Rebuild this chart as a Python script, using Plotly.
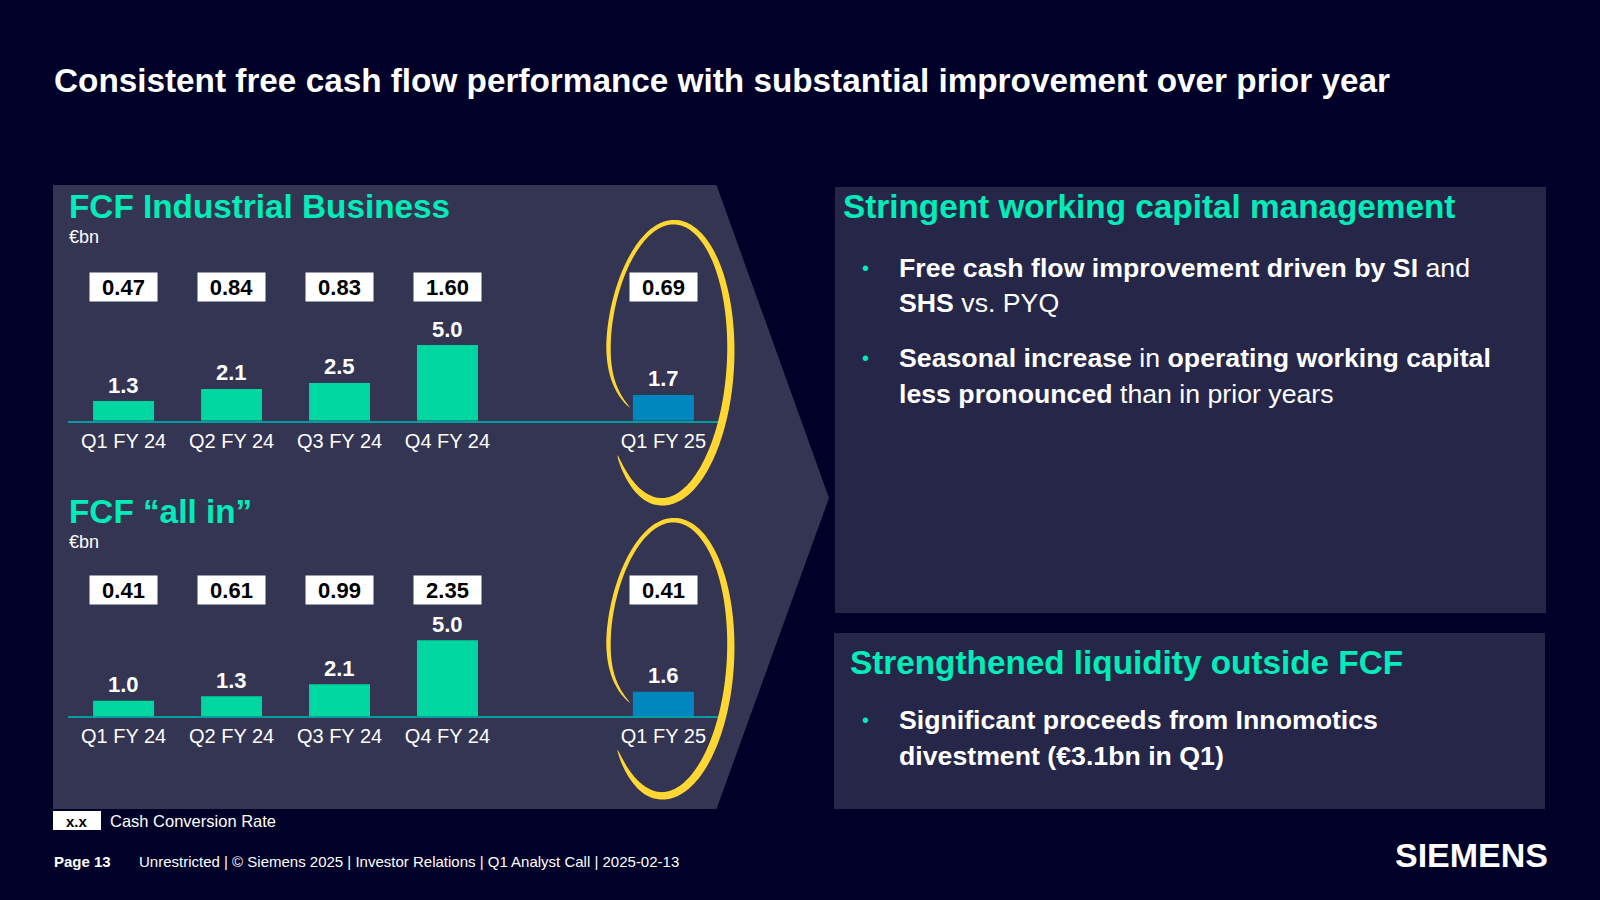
import numpy as np
import plotly.graph_objects as go

# ---------------- data ----------------
categories = ["Q1 FY 24", "Q2 FY 24", "Q3 FY 24", "Q4 FY 24", "Q1 FY 25"]
fcf_industrial = [1.3, 2.1, 2.5, 5.0, 1.7]
ccr_industrial = [0.47, 0.84, 0.83, 1.60, 0.69]
fcf_all_in = [1.0, 1.3, 2.1, 5.0, 1.6]
ccr_all_in = [0.41, 0.61, 0.99, 2.35, 0.41]
bar_colors = ["#00D7A0", "#00D7A0", "#00D7A0", "#00D7A0", "#0087BE"]
axis_order = categories[:4] + ["gap"] + categories[4:]

W, H = 1600, 900
BG = "#000028"
PANEL_L = "#343453"
PANEL_R = "#262649"
TEAL = "#00EDB9"
YELLOW = "#FFD732"
FONT = "Liberation Sans, Arial, sans-serif"


def X(px):
    return px / W


def Y(py):
    return 1 - py / H


fig = go.Figure()

# bar charts
fig.add_trace(go.Bar(x=categories, y=fcf_industrial, marker_color=bar_colors,
                     marker_line_width=0, xaxis="x", yaxis="y", hoverinfo="skip"))
fig.add_trace(go.Bar(x=categories, y=fcf_all_in, marker_color=bar_colors,
                     marker_line_width=0, xaxis="x2", yaxis="y2", hoverinfo="skip"))

PXU = 15.13  # px per bn
YMAX = 8
base1, base2 = 420.7, 716.0
xl, xr = 68, 719

xaxis_common = dict(type="category", categoryorder="array", categoryarray=axis_order,
                    range=[-0.515, 5.515], showline=True, linecolor="#009EA0", linewidth=2,
                    showgrid=False, zeroline=False, ticks="", tickmode="array",
                    tickvals=categories, ticktext=categories,
                    tickfont=dict(family=FONT, size=20, color="white"),
                    ticklabelstandoff=1, fixedrange=True)
yaxis_common = dict(range=[0, YMAX], visible=False, showgrid=False, zeroline=False, fixedrange=True)

layout = dict(
    width=W, height=H, margin=dict(l=0, r=0, t=0, b=0),
    paper_bgcolor=BG, plot_bgcolor="rgba(0,0,0,0)", showlegend=False,
    bargap=0.435,
    xaxis=dict(domain=[X(xl), X(xr)], anchor="y", **xaxis_common),
    yaxis=dict(domain=[Y(base1), Y(base1 - YMAX * PXU)], anchor="x", **yaxis_common),
    xaxis2=dict(domain=[X(xl), X(xr)], anchor="y2", **xaxis_common),
    yaxis2=dict(domain=[Y(base2), Y(base2 - YMAX * PXU)], anchor="x2", **yaxis_common),
)
fig.update_layout(**layout)

shapes = []
# left panel (arrow-shaped)
lp = [(53, 185), (716.5, 185), (829, 498), (716.5, 809), (53, 809)]
path = "M " + " L ".join(f"{X(a)},{Y(b)}" for a, b in lp) + " Z"
shapes.append(dict(type="path", xref="paper", yref="paper", path=path,
                   fillcolor=PANEL_L, line=dict(width=0), layer="below"))
# right panels
for (x0, y0, x1, y1) in [(835, 187, 1546, 613), (834, 633, 1545, 809)]:
    shapes.append(dict(type="rect", xref="paper", yref="paper", x0=X(x0), x1=X(x1),
                       y0=Y(y1), y1=Y(y0), fillcolor=PANEL_R, line=dict(width=0), layer="below"))
# legend box
shapes.append(dict(type="rect", xref="paper", yref="paper", x0=X(53), x1=X(101),
                   y0=Y(830), y1=Y(811), fillcolor="white", line=dict(width=0)))


def ring(cx, cy, rx, ry):
    t0, t1 = 160.0, 497.0
    ts = np.radians(np.linspace(t0, t1, 260))
    tdeg = np.degrees(ts)
    s = 1 - 0.4 * np.exp(-(tdeg - t0) / 10.0)
    dx = rx * s * np.cos(ts)
    dy = ry * np.sin(ts)
    phi = np.radians(3)
    px = cx + dx * np.cos(phi) - dy * np.sin(phi)
    py = cy + dx * np.sin(phi) + dy * np.cos(phi)
    w = 4.0 + 4.0 * (1 + np.cos(ts - np.radians(45))) / 2
    taper = np.clip(np.minimum((tdeg - t0) / 25.0, (t1 - tdeg) / 35.0), 0, 1)
    w = w * np.sqrt(taper)
    gx, gy = np.gradient(px), np.gradient(py)
    n = np.hypot(gx, gy)
    nx, ny = -gy / n, gx / n
    ox, oy = px + nx * w / 2, py + ny * w / 2
    ix, iy = px - nx * w / 2, py - ny * w / 2
    xs = np.concatenate([ox, ix[::-1]])
    ys = np.concatenate([oy, iy[::-1]])
    return "M " + " L ".join(f"{X(a):.5f},{Y(b):.5f}" for a, b in zip(xs, ys)) + " Z"


for cy, ry in [(362, 140), (658, 138)]:
    shapes.append(dict(type="path", xref="paper", yref="paper", path=ring(668, cy, 62.5, ry),
                       fillcolor=YELLOW, line=dict(width=0), layer="above"))

fig.update_layout(shapes=shapes)

ann = []


def txt(x, y, text, size, color="white", xanchor="left", **kw):
    ann.append(dict(x=X(x), y=Y(y), xref="paper", yref="paper", text=text, showarrow=False,
                    xanchor=xanchor, yanchor="middle",
                    font=dict(family=FONT, size=size, color=color), **kw))


# slide title
txt(52, 80, "<b>Consistent free cash flow performance with substantial improvement over prior year</b>", 33.3)

# chart titles / units
txt(67, 206, "<b>FCF Industrial Business</b>", 33.3, TEAL)
txt(67, 237, "€bn", 18)
txt(67, 511, "<b>FCF “all in”</b>", 33.3, TEAL)
txt(67, 542, "€bn", 18)

# value labels & cash conversion boxes
for xa, ya, vals, ccr, box_y in [("x", "y", fcf_industrial, ccr_industrial, 286.5),
                                  ("x2", "y2", fcf_all_in, ccr_all_in, 589.5)]:
    for c, v, r in zip(categories, vals, ccr):
        ann.append(dict(x=c, y=v, xref=xa, yref=ya, text=f"<b>{v:.1f}</b>", showarrow=False,
                        yanchor="middle", yshift=16,
                        font=dict(family=FONT, size=22, color="white")))
        ann.append(dict(x=c, y=Y(box_y), xref=xa, yref="paper", text=f"<b>{r:.2f}</b>",
                        showarrow=False, yanchor="middle", bgcolor="white", width=67, height=28,
                        borderpad=0, font=dict(family=FONT, size=22, color="black")))

# right panel texts
txt(841, 207, "<b>Stringent working capital management</b>", 33.3, TEAL)
bul = 865
tx = 897
BS = 26.7
for y in [268, 358]:
    txt(bul, y, "•", 20, TEAL, xanchor="center")
txt(tx, 268, "<b>Free cash flow improvement driven by SI</b> and", BS)
txt(tx, 303, "<b>SHS</b> vs. PYQ", BS)
txt(tx, 358, "<b>Seasonal increase</b> in <b>operating working capital</b>", BS)
txt(tx, 394, "<b>less pronounced</b> than in prior years", BS)

txt(848, 662, "<b>Strengthened liquidity outside FCF</b>", 33.3, TEAL)
txt(bul, 720, "•", 20, TEAL, xanchor="center")
txt(tx, 720, "<b>Significant proceeds from Innomotics</b>", BS)
txt(tx, 756, "<b>divestment (€3.1bn in Q1)</b>", BS)

# legend
txt(77, 821, "<b>x.x</b>", 15, "black", xanchor="center")
txt(108, 821, "Cash Conversion Rate", 16.5)

# footer
txt(52, 861, "<b>Page 13</b>", 15)
txt(137, 861, "Unrestricted | © Siemens 2025 | Investor Relations | Q1 Analyst Call | 2025-02-13", 15)
txt(1550, 855, "<b>SIEMENS</b>", 34, xanchor="right")

fig.update_layout(annotations=ann)
fig.write_html("out.html", config={"displayModeBar": False},
               post_script="document.body.style.margin='0';document.body.style.overflow='hidden';"
                           "document.body.style.background='#000028';")
